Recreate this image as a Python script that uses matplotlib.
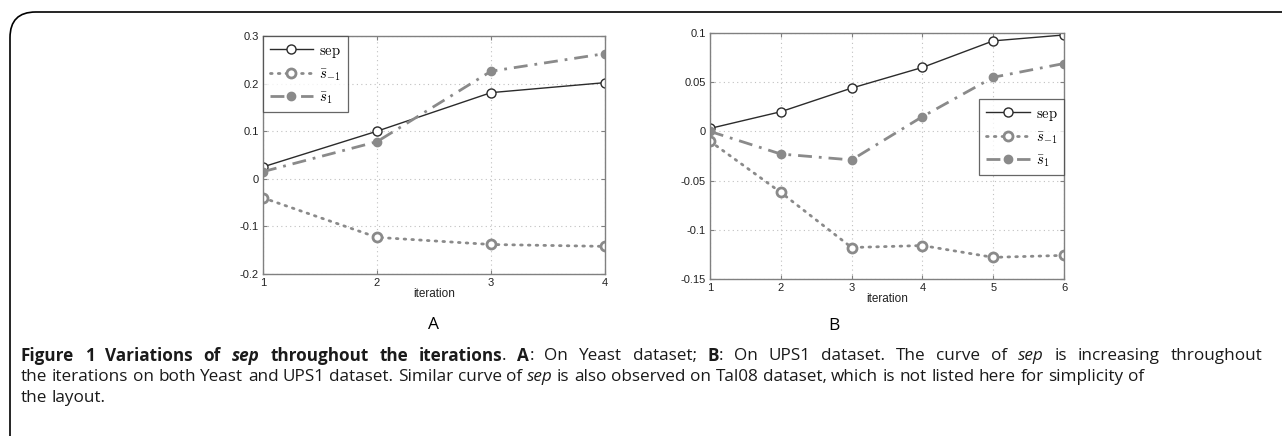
import matplotlib
matplotlib.use("Agg")
import matplotlib.pyplot as plt
from matplotlib.patches import FancyBboxPatch

plt.rcParams['mathtext.fontset'] = 'cm'

# panel A (Yeast)
iter_a = [1, 2, 3, 4]
sep_a = [0.025, 0.100, 0.181, 0.202]
sneg_a = [-0.040, -0.123, -0.138, -0.142]
spos_a = [0.015, 0.078, 0.226, 0.263]

# panel B (UPS1)
iter_b = [1, 2, 3, 4, 5, 6]
sep_b = [0.003, 0.020, 0.044, 0.065, 0.092, 0.098]
sneg_b = [-0.010, -0.062, -0.118, -0.116, -0.128, -0.126]
spos_b = [0.000, -0.023, -0.029, 0.015, 0.055, 0.069]

labels = [r'$\mathrm{sep}$', r'$\bar{s}_{-1}$', r'$\bar{s}_{1}$']

W, H = 1282, 436
fig = plt.figure(figsize=(W / 100, H / 100), dpi=100)

# rounded frame of the figure box
frame = FancyBboxPatch((10 / W, -0.1), 1.2, (H - 12) / H + 0.1,
                       boxstyle="round,pad=0,rounding_size=0.02",
                       transform=fig.transFigure, fill=False,
                       edgecolor='black', linewidth=1.2, mutation_aspect=W / H)
fig.patches.append(frame)


def px_axes(l, t, r, b):
    return fig.add_axes([l / W, (H - b) / H, (r - l) / W, (b - t) / H])


def draw_panel(ax, x, sep, sneg, spos):
    ax.plot(x, sep, color='#2b2b2b', lw=1.0, marker='o', ms=6.5,
            mfc='white', mec='#2b2b2b', mew=1.0, label=labels[0])
    ax.plot(x, sneg, color='#8a8a8a', lw=2.0, ls=(0, (0.6, 2.2)), marker='o', ms=6.5,
            mfc='white', mec='#8a8a8a', mew=2.0, label=labels[1], dash_capstyle='round')
    ax.plot(x, spos, color='#8a8a8a', lw=2.0, ls=(0, (5, 2.5, 1, 2.5)), marker='o', ms=6,
            mfc='#8a8a8a', mec='#8a8a8a', label=labels[2])
    ax.grid(True, ls=(0, (1, 3)), color='#c0c0c0', lw=0.8)
    ax.tick_params(direction='in', top=True, right=True, length=3,
                   labelsize=8, labelcolor='#222222', color='#808080', pad=3)
    for s in ax.spines.values():
        s.set_color('#808080')
        s.set_linewidth(1.0)
    ax.set_xlabel('iteration', fontsize=8.5, family='Liberation Sans', labelpad=0,
                  color='#222222')


axA = px_axes(263, 36, 605, 274)
draw_panel(axA, iter_a, sep_a, sneg_a, spos_a)
axA.set_xlim(1, 4)
axA.set_ylim(-0.2, 0.3)
axA.set_xticks(iter_a)
axA.set_yticks([-0.2, -0.1, 0, 0.1, 0.2, 0.3])
axA.set_yticklabels(['-0.2', '-0.1', '0', '0.1', '0.2', '0.3'], family='Liberation Sans')
axA.set_xticklabels([str(v) for v in iter_a], family='Liberation Sans')
legA = axA.legend(loc='upper left', borderaxespad=0, fancybox=False,
                  edgecolor='#404040', fontsize=10.5, handlelength=3.0,
                  labelspacing=0.45, borderpad=0.45, handletextpad=0.4)
legA.get_frame().set_linewidth(0.9)

axB = px_axes(710, 33, 1064, 279)
draw_panel(axB, iter_b, sep_b, sneg_b, spos_b)
axB.set_xlim(1, 6)
axB.set_ylim(-0.15, 0.1)
axB.set_xticks(iter_b)
axB.set_yticks([-0.15, -0.1, -0.05, 0, 0.05, 0.1])
axB.set_yticklabels(['-0.15', '-0.1', '-0.05', '0', '0.05', '0.1'], family='Liberation Sans')
axB.set_xticklabels([str(v) for v in iter_b], family='Liberation Sans')
legB = axB.legend(loc='upper right', bbox_to_anchor=(1, 1 - (99 - 33) / 246),
                  borderaxespad=0, fancybox=False,
                  edgecolor='#404040', fontsize=10.5, handlelength=3.0,
                  labelspacing=0.45, borderpad=0.45, handletextpad=0.4)
legB.get_frame().set_linewidth(0.9)

fig.text(434 / W, 1 - 325 / H, 'A', ha='center', va='center', fontsize=12.5,
         family='Open Sans')
fig.text(834 / W, 1 - 326 / H, 'B', ha='center', va='center', fontsize=12.5,
         family='Open Sans')

# caption, drawn piece by piece (first line justified)
caption = [
    [('Figure 1 Variations of ', 'bold', 'normal'), ('sep', 'bold', 'italic'),
     (' throughout the iterations', 'bold', 'normal'), ('. ', 'normal', 'normal'),
     ('A', 'bold', 'normal'), (': On Yeast dataset; ', 'normal', 'normal'),
     ('B', 'bold', 'normal'), (': On UPS1 dataset. The curve of ', 'normal', 'normal'),
     ('sep', 'normal', 'italic'), (' is increasing throughout', 'normal', 'normal')],
    [('the iterations on both Yeast and UPS1 dataset. Similar curve of ', 'normal', 'normal'),
     ('sep', 'normal', 'italic'),
     (' is also observed on Tal08 dataset, which is not listed here for simplicity of',
      'normal', 'normal')],
    [('the layout.', 'normal', 'normal')],
]
line_y = [356, 377, 398]
line_right = [1262, None, None]
cap_x = 21
fs = 12.3
renderer = fig.canvas.get_renderer()


def word_pieces(pieces):
    # split into words keeping the style; spaces become separate gaps
    out = []
    for txt, wt, st in pieces:
        parts = txt.split(' ')
        for i, p in enumerate(parts):
            if i > 0:
                out.append((' ', wt, st))
            if p:
                out.append((p, wt, st))
    return out


def measure(txt, wt, st):
    t = fig.text(0, 0, txt, fontsize=fs, family='Open Sans', weight=wt, style=st)
    w = t.get_window_extent(renderer).width
    t.remove()
    return w


for pieces, yy, right in zip(caption, line_y, line_right):
    words = word_pieces(pieces)
    widths = []
    for txt, wt, st in words:
        if txt == ' ':
            widths.append(measure('a a', wt, st) - measure('aa', wt, st))
        else:
            widths.append(measure(txt, wt, st))
    n_gaps = sum(1 for w in words if w[0] == ' ')
    extra = 0
    if right is not None and n_gaps:
        extra = (right - cap_x - sum(widths)) / n_gaps
    x = cap_x
    for (txt, wt, st), w in zip(words, widths):
        if txt == ' ':
            x += w + extra
            continue
        fig.text(x / W, 1 - yy / H, txt, ha='left', va='center', fontsize=fs,
                 family='Open Sans', weight=wt, style=st, color='#1a1a1a')
        x += w

fig.savefig('out.png', dpi=100)
